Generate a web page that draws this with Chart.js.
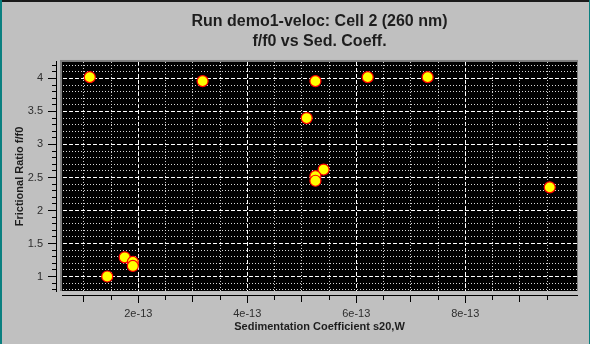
<!DOCTYPE html>
<html>
<head>
<meta charset="utf-8">
<script src="https://cdn.jsdelivr.net/npm/chart.js@4/dist/chart.umd.min.js"></script>
<style>
    html, body { margin: 0; padding: 0; background: #c0c0c0; }
    #frame { position: relative; width: 590px; height: 344px; background: #c0c0c0; overflow: hidden; }
    #chart { position: absolute; left: 0; top: 0; }
    .edge { position: absolute; }
</style>
</head>
<body>
<div id="frame">
    <canvas id="chart" width="590" height="344"></canvas>
    <div class="edge" style="left:0;top:0;width:590px;height:2px;background:#1a1a1a"></div>
    <div class="edge" style="left:0;top:0;width:2px;height:344px;background:#0a8080"></div>
    <div class="edge" style="left:589px;top:0;width:1px;height:344px;background:#0a8080"></div>
</div>
<script>
// sedimentation coefficients, in units of 1e-13
const sedCoeff = [1.11, 3.18, 5.25, 5.09, 5.40, 5.25, 5.25, 6.21, 7.31, 9.55, 1.75, 1.90, 1.90, 1.43];
const fRatio = [4.02, 3.96, 3.96, 3.40, 2.62, 2.52, 2.45, 4.02, 4.02, 2.35, 1.29, 1.22, 1.16, 1.00];

const titleLines = ['Run demo1-veloc: Cell 2 (260 nm)', 'f/f0 vs Sed. Coeff.'];
const xTitle = 'Sedimentation Coefficient s20,W';
const yTitle = 'Frictional Ratio f/f0';

const xRange = [0.6, 10.05];
const yRange = [0.78, 4.25];
const xStep = 0.5;   // label every 2
const yStep = 0.1;   // label every 0.5
const xLastTick = 9.5;

const family = '"Liberation Sans", Arial, sans-serif';
Chart.defaults.font.family = family;

const xMajor = v => Math.round(v * 2) % 4 === 0;
const xMid = v => Math.round(v * 2) % 2 === 0;
const yMajor = v => Math.round(v * 10) % 5 === 0;

// black canvas with a sunken grey edge on top/left
const plotBackground = {
    id: 'plotBackground',
    beforeDraw(chart) {
        const { ctx, chartArea: a } = chart;
        ctx.save();
        ctx.fillStyle = '#808080';
        ctx.fillRect(a.left - 2, a.top - 2, a.right - a.left + 3, a.bottom - a.top + 2);
        ctx.fillStyle = '#000000';
        ctx.fillRect(a.left, a.top, a.right - a.left, a.bottom - a.top);
        ctx.restore();
    }
};

// empty axes used only as spacing between the plot and the real axes
const spacer = (position, size) => ({
    type: 'linear',
    position: position,
    weight: 0,
    ticks: { display: false },
    grid: { display: false },
    border: { display: false },
    afterFit: s => {
        if (position === 'left') s.width = size; else s.height = size;
    }
});

const ctx = document.getElementById('chart').getContext('2d');
const chart = new Chart(ctx, {
    type: 'scatter',
    data: {
        datasets: [{
            data: sedCoeff.map((s, i) => ({ x: s, y: fRatio[i] })),
            pointRadius: 5.5,
            pointHoverRadius: 5.5,
            borderWidth: 1.2,
            pointBackgroundColor: '#ffff00',
            pointBorderColor: '#ff0000'
        }]
    },
    plugins: [plotBackground],
    options: {
        responsive: false,
        animation: false,
        layout: { padding: { left: 2, right: 13, top: 0, bottom: 0 } },
        plugins: {
            legend: { display: false },
            tooltip: { enabled: false },
            title: {
                display: true,
                fullSize: false,
                text: titleLines,
                color: '#1e1e1e',
                font: { size: 16, weight: 'bold', lineHeight: 1.28 },
                padding: { top: 11.25, bottom: 9.75 }
            }
        },
        scales: {
            x: {
                type: 'linear',
                position: 'bottom',
                weight: 1,
                min: xRange[0],
                max: xRange[1],
                afterFit: s => { s.height = 49; },
                afterBuildTicks: s => { s.ticks = s.ticks.filter(t => t.value <= xLastTick); },
                ticks: {
                    stepSize: xStep,
                    autoSkip: false,
                    includeBounds: false,
                    maxTicksLimit: 1000,
                    maxRotation: 0,
                    padding: 4,
                    color: '#2e2e2e',
                    font: { size: 11 },
                    callback: v => xMajor(v) ? Math.round(v) + 'e-13' : ''
                },
                grid: {
                    color: c => c.tick && xMajor(c.tick.value) ? '#ffffff' : '#d8d8d8',
                    lineWidth: 1,
                    tickLength: 8,
                    tickColor: '#000000',
                    tickBorderDash: c => {
                        if (!c.tick || xMajor(c.tick.value)) return [];
                        return xMid(c.tick.value) ? [6, 20] : [4, 20];
                    }
                },
                border: {
                    display: true,
                    color: '#000000',
                    width: 1,
                    dash: c => c.tick && xMajor(c.tick.value) ? [4, 2] : [1, 2]
                },
                title: {
                    display: true,
                    text: xTitle,
                    color: '#1e1e1e',
                    font: { size: 11, weight: 'bold' },
                    padding: { top: 0, bottom: 10 }
                }
            },
            y: {
                type: 'linear',
                position: 'left',
                weight: 1,
                min: yRange[0],
                max: yRange[1],
                afterFit: s => { s.width = 54; },
                ticks: {
                    stepSize: yStep,
                    autoSkip: false,
                    includeBounds: false,
                    maxTicksLimit: 1000,
                    padding: 5,
                    color: '#2e2e2e',
                    font: { size: 11 },
                    callback: v => yMajor(v) ? String(Math.round(v * 10) / 10) : ''
                },
                grid: {
                    color: c => c.tick && yMajor(c.tick.value) ? '#ffffff' : '#d8d8d8',
                    lineWidth: 1,
                    tickLength: 8,
                    tickColor: '#000000',
                    tickBorderDash: c => (!c.tick || yMajor(c.tick.value)) ? [] : [0, 4, 4, 20]
                },
                border: {
                    display: true,
                    color: '#000000',
                    width: 1,
                    dash: c => c.tick && yMajor(c.tick.value) ? [4, 2] : [1, 2]
                },
                title: {
                    display: true,
                    text: yTitle,
                    color: '#1e1e1e',
                    font: { size: 11, weight: 'bold' },
                    padding: { top: 11, bottom: 0 }
                }
            },
            xGap: spacer('bottom', 4),
            yGap: spacer('left', 6)
        }
    }
});
</script>
</body>
</html>
